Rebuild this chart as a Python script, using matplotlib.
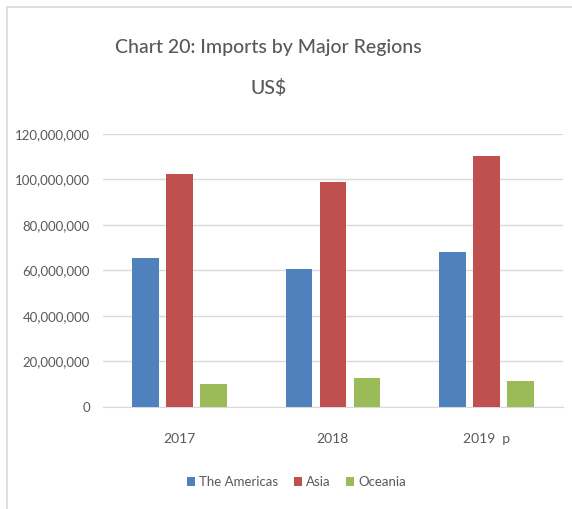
import matplotlib
matplotlib.use("Agg")
import matplotlib.pyplot as plt
import numpy as np
from matplotlib.patches import Rectangle

plt.rcParams['font.family'] = ['Lato', 'DejaVu Sans']

# --- data ---
years = ['2017', '2018', '2019  p']
series_names = ['The Americas', 'Asia', 'Oceania']
americas = [65200000, 60700000, 68200000]
asia = [102200000, 98900000, 110200000]
oceania = [10200000, 12700000, 11500000]
colors = ['#4F81BD', '#C0504D', '#9BBB59']

TXT = '#595959'
GRID = '#D9D9D9'

fig = plt.figure(figsize=(5.72, 5.09), dpi=100)
ax = fig.add_axes([0.180, 0.201, 0.804, 0.536])

x = np.arange(len(years))
width = 0.174
step = 0.222
for i, (vals, name) in enumerate(zip([americas, asia, oceania], series_names)):
    ax.bar(x + (i - 1) * step, vals, width, color=colors[i], label=name, zorder=3)

ax.set_xlim(-0.5, len(years) - 0.5)
ax.set_ylim(0, 120000000)
ax.set_yticks(np.arange(0, 120000001, 20000000))
ax.yaxis.set_major_formatter(matplotlib.ticker.FuncFormatter(lambda v, p: f'{int(v):,}'))
ax.set_xticks(x)
ax.set_xticklabels(years)
ax.tick_params(axis='both', length=0, colors=TXT)
ax.tick_params(axis='y', pad=9.5, labelsize=9.5)
ax.tick_params(axis='x', pad=19, labelsize=10)
ax.grid(axis='y', color=GRID, linewidth=1, zorder=0)
for s in ['top', 'right', 'left']:
    ax.spines[s].set_visible(False)
ax.spines['bottom'].set_color(GRID)

fig.text(0.469, 0.907, 'Chart 20: Imports by Major Regions', ha='center', va='center',
         fontsize=14, color=TXT, fontweight='medium')
fig.text(0.469, 0.827, 'US$', ha='center', va='center', fontsize=14, color=TXT,
         fontweight='medium')

leg = fig.legend(loc='center', bbox_to_anchor=(0.518, 0.053), ncol=3, frameon=False,
                 fontsize=9.5, handlelength=0.6, handleheight=0.6, handletextpad=0.3,
                 columnspacing=1.2)
for t in leg.get_texts():
    t.set_color(TXT)

# chart frame
fig.patches.append(Rectangle((7 / 572, -0.1), 1.1, 1 - 7 / 509 + 0.1, transform=fig.transFigure,
                             fill=False, edgecolor='#D9D9D9', linewidth=1.2))

fig.savefig('out.png', dpi=100)
